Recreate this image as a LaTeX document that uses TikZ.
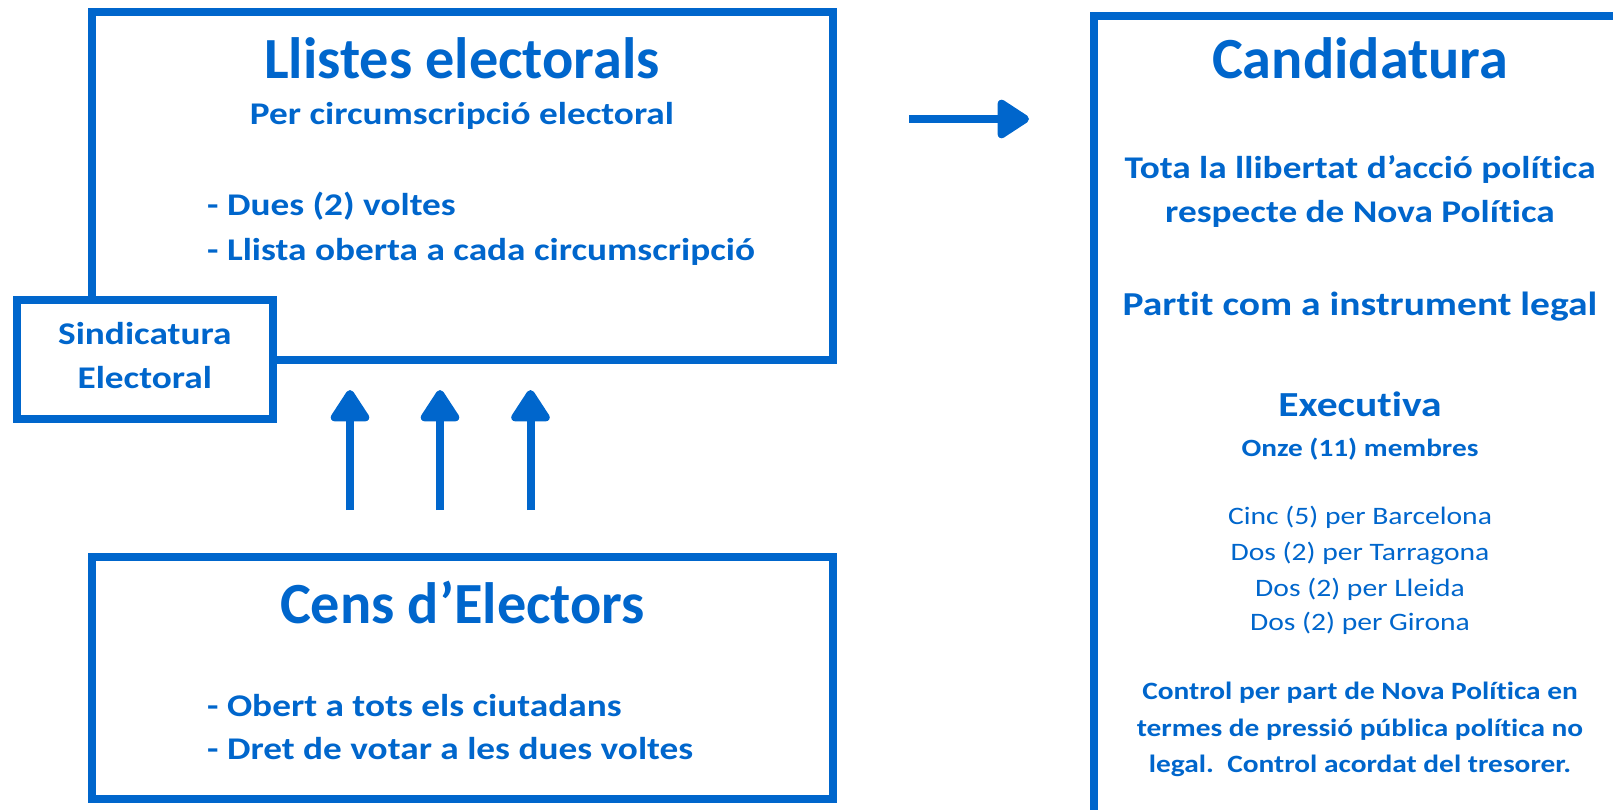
\documentclass[tikz,border=0pt]{standalone}
\usepackage{fontspec}
\setmainfont{Carlito}[Ligatures=NoCommon]
\newfontfamily\wf{Carlito}[FakeStretch=1.18, Ligatures=NoCommon]
\usetikzlibrary{arrows.meta}
\definecolor{nblue}{HTML}{0066CC}
\newcommand{\fs}[1]{\fontsize{#1}{#1}\selectfont}
\begin{document}
\begin{tikzpicture}[x=1pt,y=-1pt,
  txt/.style={text=nblue, inner sep=0pt, anchor=base},
  bx/.style={draw=nblue, line width=8pt, inner sep=0pt},
  arr/.style={draw=nblue, line width=8pt, -{Triangle[length=35pt,width=43pt,round]}}]
\useasboundingbox (0,0) rectangle (1613,810);
\begin{scope}
\clip (0,0) rectangle (1613,810);
% boxes
\node[bx, minimum width=741pt, minimum height=348pt] (llistes) at (462.5,186) {};
\node[bx, fill=white, minimum width=256.5pt, minimum height=119.5pt] (sind) at (144.75,359.25) {};
\node[bx, minimum width=741pt, minimum height=242.3pt] (cens) at (462.5,677.85) {};
\node[bx, minimum width=700pt, minimum height=900pt, anchor=north west] (cand) at (1090,12) {};
\end{scope}
% Llistes electorals
\node[txt, font=\bfseries\fs{58.3}] (t1) at (462,79) {Llistes electorals};
\node[txt, font=\wf\bfseries\fs{31.6}] (t2) at (462,125) {Per circumscripció electoral};
\node[txt, font=\wf\bfseries\fs{31.6}, anchor=base west] (t3) at (207,216) {- Dues (2) voltes};
\node[txt, font=\wf\bfseries\fs{31.6}, anchor=base west] (t4) at (207,261) {- Llista oberta a cada circumscripció};
% Sindicatura
\node[txt, font=\wf\bfseries\fs{31.6}] (s1) at (144.75,344.5) {Sindicatura};
\node[txt, font=\wf\bfseries\fs{31.6}] (s2) at (144.75,388) {Electoral};
% Cens
\node[txt, font=\bfseries\fs{58.3}] (c1) at (462.5,623) {Cens d’Electors};
\node[txt, font=\wf\bfseries\fs{31.6}, anchor=base west] (c2) at (207,716) {- Obert a tots els ciutadans};
\node[txt, font=\wf\bfseries\fs{31.6}, anchor=base west] (c3) at (207,759) {- Dret de votar a les dues voltes};
% Candidatura
\node[txt, font=\bfseries\fs{58.3}] (k1) at (1360,79) {Candidatura};
\node[txt, font=\wf\bfseries\fs{31.6}] (k2) at (1360,179) {Tota la llibertat d’acció política};
\node[txt, font=\wf\bfseries\fs{31.6}] (k3) at (1360,223) {respecte de Nova Política};
\node[txt, font=\wf\bfseries\fs{33.5}] (k4) at (1360,315) {Partit com a instrument legal};
\node[txt, font=\wf\bfseries\fs{35.2}] (k5) at (1360,416.5) {Executiva};
\node[txt, font=\wf\bfseries\fs{24.8}] (k6) at (1360,456) {Onze (11) membres};
\node[txt, font=\wf\fs{25.1}] (k7) at (1360,524.5) {Cinc (5) per Barcelona};
\node[txt, font=\wf\fs{25.1}] (k8) at (1360,560.5) {Dos (2) per Tarragona};
\node[txt, font=\wf\fs{25.1}] (k9) at (1360,596.5) {Dos (2) per Lleida};
\node[txt, font=\wf\fs{25.1}] (k10) at (1360,630.5) {Dos (2) per Girona};
\node[txt, font=\wf\bfseries\fs{24.9}] (k11) at (1360,699.5) {Control per part de Nova Política en};
\node[txt, font=\wf\bfseries\fs{24.9}] (k12) at (1360,736.5) {termes de pressió pública política no};
\node[txt, font=\wf\bfseries\fs{24.9}] (k13) at (1360,772.5) {legal.\ \ Control acordat del tresorer.};
% arrows
\coordinate (rs) at (909,119);
\coordinate (re) at (1029,119);
\draw[arr] (rs) -- (re);
\foreach \i/\x in {1/350,2/440,3/530.5}{
  \coordinate (u\i s) at (\x,510);
  \coordinate (u\i e) at (\x,390);
  \draw[arr] (u\i s) -- (u\i e);
}
\end{tikzpicture}
\end{document}
